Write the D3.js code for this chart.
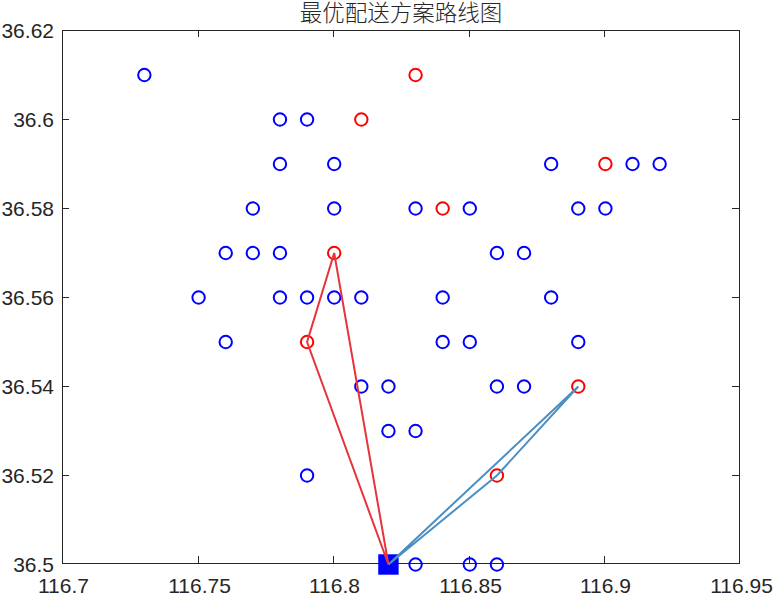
<!DOCTYPE html>
<html>
<head>
<meta charset="utf-8">
<script src="https://cdn.jsdelivr.net/npm/d3@7"></script>
<style>
body { margin: 0; background: #fff; }
svg { display: block; }
text { fill: #262626; }
</style>
</head>
<body>
<svg id="chart" width="774" height="597"></svg>
<script>
var chartTitle = '最优配送方案路线图';
var xTicks = [116.7, 116.75, 116.8, 116.85, 116.9, 116.95];
var yTicks = [36.5, 36.52, 36.54, 36.56, 36.58, 36.6, 36.62];

// customers
var customerX = [116.73, 116.78, 116.79, 116.78, 116.80, 116.88, 116.91, 116.92,
    116.77, 116.80, 116.83, 116.85, 116.89, 116.90,
    116.76, 116.77, 116.78, 116.86, 116.87,
    116.75, 116.78, 116.79, 116.80, 116.81, 116.84, 116.88,
    116.76, 116.84, 116.85, 116.89,
    116.81, 116.82, 116.86, 116.87,
    116.82, 116.83, 116.79,
    116.83, 116.85, 116.86];
var customerY = [36.61, 36.60, 36.60, 36.59, 36.59, 36.59, 36.59, 36.59,
    36.58, 36.58, 36.58, 36.58, 36.58, 36.58,
    36.57, 36.57, 36.57, 36.57, 36.57,
    36.56, 36.56, 36.56, 36.56, 36.56, 36.56, 36.56,
    36.55, 36.55, 36.55, 36.55,
    36.54, 36.54, 36.54, 36.54,
    36.53, 36.53, 36.52,
    36.50, 36.50, 36.50];

// selected delivery points
var selectedX = [116.83, 116.81, 116.90, 116.84, 116.80, 116.79, 116.89, 116.86];
var selectedY = [36.61, 36.60, 36.59, 36.58, 36.57, 36.55, 36.54, 36.52];

var depotX = 116.82;
var depotY = 36.5;

var routeOneX = [116.82, 116.79, 116.80, 116.82];
var routeOneY = [36.50, 36.55, 36.57, 36.50];
var routeTwoX = [116.82, 116.86, 116.89, 116.82];
var routeTwoY = [36.50, 36.52, 36.54, 36.50];

var axisColor = '#262626';
var svg = d3.select('#chart');

// marks sit about a pixel off the frame in the original, so they get their own scales
var x = d3.scaleLinear().domain([116.7, 116.95]).range([63, 741]);
var y = d3.scaleLinear().domain([36.5, 36.62]).range([564.5, 30.5]);
var xAxisScale = d3.scaleLinear().domain([116.7, 116.95]).rangeRound([62, 740]);
var yAxisScale = d3.scaleLinear().domain([36.5, 36.62]).rangeRound([564, 30]);

function styleAxis(g) {
    g.select('.domain').remove();
    // the frame already covers the ticks at both ends
    g.selectAll('.tick')
        .filter(function (d) { return d === xTicks[0] || d === xTicks[5] || d === yTicks[0] || d === yTicks[6]; })
        .select('line').remove();
    g.selectAll('line').attr('stroke', axisColor).attr('stroke-width', 1);
    g.selectAll('text').attr('font-family', '"Liberation Sans", Arial, sans-serif')
        .attr('font-size', 21).attr('fill', axisColor);
}

var fmt = function (d) { return String(+d.toFixed(2)); };

svg.append('g').attr('transform', 'translate(0,563)')
    .call(d3.axisBottom(xAxisScale).tickValues(xTicks).tickFormat(fmt).tickSizeInner(-7).tickSizeOuter(0).tickPadding(15))
    .call(styleAxis)
    .selectAll('text').attr('dx', 1);
svg.append('g').attr('transform', 'translate(62,0)')
    .call(d3.axisLeft(yAxisScale).tickValues(yTicks).tickFormat(fmt).tickSizeInner(-7).tickSizeOuter(0).tickPadding(8))
    .call(styleAxis)
    .selectAll('text').attr('dy', '0.37em');
svg.append('g').attr('transform', 'translate(0,30)')
    .call(d3.axisTop(xAxisScale).tickValues(xTicks).tickFormat('').tickSizeInner(-7).tickSizeOuter(0))
    .call(styleAxis);
svg.append('g').attr('transform', 'translate(739,0)')
    .call(d3.axisRight(yAxisScale).tickValues(yTicks).tickFormat('').tickSizeInner(-7).tickSizeOuter(0))
    .call(styleAxis);

svg.append('rect')
    .attr('x', 62.5).attr('y', 30.5)
    .attr('width', 677).attr('height', 533)
    .attr('fill', 'none').attr('stroke', axisColor).attr('stroke-width', 1);

svg.append('text')
    .attr('x', 401).attr('y', 21)
    .attr('text-anchor', 'middle')
    .attr('font-family', '"Noto Sans CJK SC", sans-serif')
    .attr('font-size', 22.5).attr('font-weight', 300)
    .text(chartTitle);

svg.append('g').selectAll('circle').data(d3.range(customerX.length)).join('circle')
    .attr('cx', function (i) { return x(customerX[i]); })
    .attr('cy', function (i) { return y(customerY[i]); })
    .attr('r', 6.2).attr('fill', 'none').attr('stroke', '#0000ff').attr('stroke-width', 2);

svg.append('g').selectAll('circle').data(d3.range(selectedX.length)).join('circle')
    .attr('cx', function (i) { return x(selectedX[i]); })
    .attr('cy', function (i) { return y(selectedY[i]); })
    .attr('r', 6.2).attr('fill', 'none').attr('stroke', '#ff0000').attr('stroke-width', 2);

svg.append('rect')
    .attr('x', x(depotX) - 10.2).attr('y', y(depotY) - 10.2)
    .attr('width', 20.4).attr('height', 20.4)
    .attr('fill', '#0000ff');

function drawRoute(xs, ys, color) {
    var line = d3.line()
        .x(function (i) { return x(xs[i]); })
        .y(function (i) { return y(ys[i]); });
    svg.append('path').attr('d', line(d3.range(xs.length)))
        .attr('fill', 'none').attr('stroke', color).attr('stroke-width', 2);
}
drawRoute(routeOneX, routeOneY, '#e8323c');
drawRoute(routeTwoX, routeTwoY, '#4a8fc4');
</script>
</body>
</html>
